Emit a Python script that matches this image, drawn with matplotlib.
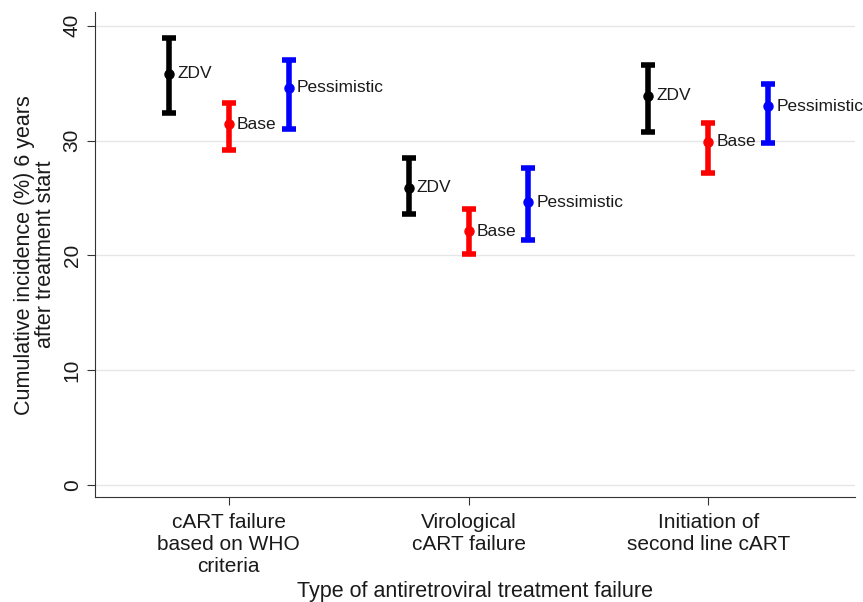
import numpy as np
import matplotlib
matplotlib.use("Agg")
import matplotlib.pyplot as plt

plt.rcParams['font.family'] = ['Liberation Sans', 'DejaVu Sans']

categories = ['cART failure\nbased on WHO\ncriteria', 'Virological\ncART failure', 'Initiation of\nsecond line cART']
scenarios = ['ZDV', 'Base', 'Pessimistic']
colors = ['black', 'red', 'blue']

# estimate, lower, upper per scenario (one entry per category)
est = {'ZDV': [35.8, 25.9, 33.9], 'Base': [31.4, 22.1, 29.9], 'Pessimistic': [34.6, 24.6, 33.0]}
low = {'ZDV': [32.4, 23.6, 30.7], 'Base': [29.2, 20.1, 27.2], 'Pessimistic': [31.0, 21.3, 29.8]}
upp = {'ZDV': [38.9, 28.5, 36.6], 'Base': [33.3, 24.0, 31.5], 'Pessimistic': [37.0, 27.6, 34.9]}

offsets = [-0.25, 0, 0.25]
xpos = np.arange(1, len(categories) + 1)

fig = plt.figure(figsize=(8.63, 6.02), dpi=100)
ax = fig.add_axes([0.110, 0.174, 0.881, 0.806])

for s, c, off in zip(scenarios, colors, offsets):
    x = xpos + off
    e = np.array(est[s])
    lo = e - np.array(low[s])
    hi = np.array(upp[s]) - e
    ax.errorbar(x, e, yerr=[lo, hi], fmt='o', color=c, ms=6.5, elinewidth=4,
                capsize=5, capthick=4, zorder=3)
    for xi, ei in zip(x, e):
        ax.annotate(s, (xi, ei), xytext=(6, 0), textcoords='offset points',
                    va='center', ha='left', fontsize=12.5, color='#1a1a1a')

ax.set_xlim(0.442, 3.6125)
ax.set_ylim(-1.1, 41.2)
ax.set_yticks([0, 10, 20, 30, 40])
ax.set_xticks(xpos)
ax.set_xticklabels(categories, fontsize=15, linespacing=1.2, color='#1a1a1a')
ax.tick_params(axis='y', labelsize=15, rotation=90, length=6, color='#333333', labelcolor='#1a1a1a')
ax.tick_params(axis='x', length=6, pad=5, color='#333333')
for lab in ax.get_yticklabels():
    lab.set_va('center')
ax.yaxis.grid(True, color='#e6e6e6', lw=1)
ax.set_axisbelow(True)
for sp in ['top', 'right']:
    ax.spines[sp].set_visible(False)
for sp in ['left', 'bottom']:
    ax.spines[sp].set_color('#333333')
ax.set_ylabel('Cumulative incidence (%) 6 years\nafter treatment start', fontsize=15.5,
              linespacing=1.0, labelpad=5, color='#1a1a1a')
ax.set_xlabel('Type of antiretroviral treatment failure', fontsize=15.5, labelpad=4, color='#1a1a1a')

fig.savefig('out.png', dpi=100)
